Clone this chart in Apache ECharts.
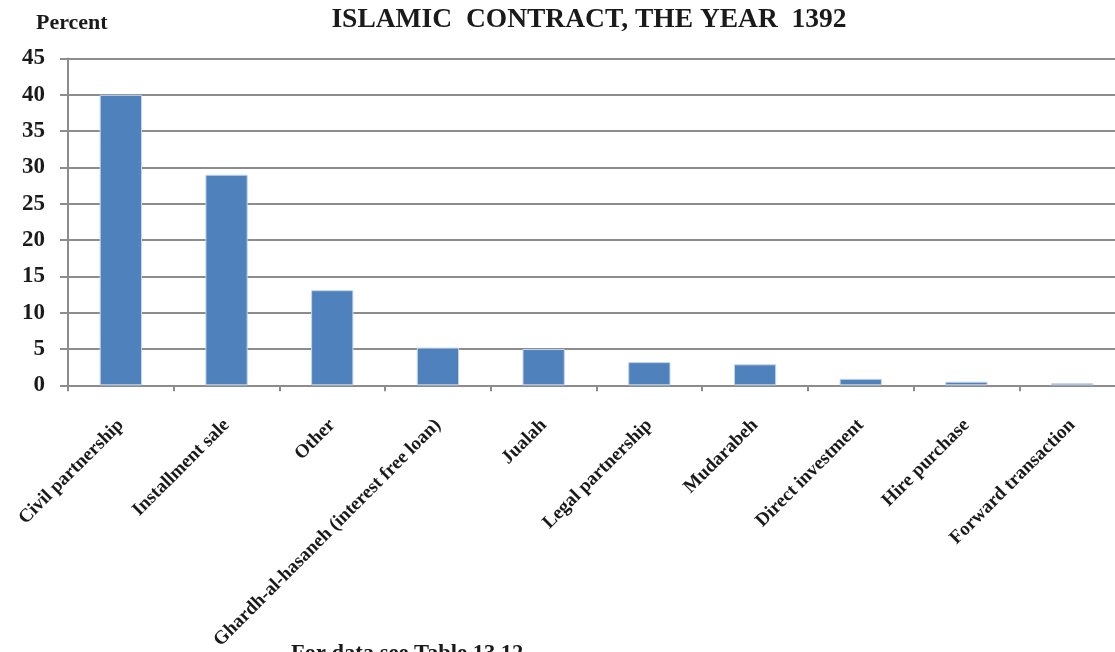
<!DOCTYPE html>
<html><head><meta charset="utf-8">
<script src="https://cdn.jsdelivr.net/npm/echarts@6/dist/echarts.min.js"></script>
<style>html,body{margin:0;padding:0;background:#fff;overflow:hidden;width:1115px;height:652px}#c{width:1130px;height:652px}</style>
</head><body><div id="c"></div>
<script>
const categories = ["Civil partnership","Installment sale","Other","Ghardh-al-hasaneh (interest free loan)","Jualah","Legal partnership","Mudarabeh","Direct investment","Hire purchase","Forward transaction"];
const values = [40, 29, 13.1, 5.2, 5.0, 3.2, 2.9, 0.9, 0.5, 0.3];
const yTicks = [0,5,10,15,20,25,30,35,40,45];
const F = '"Liberation Serif","Times New Roman",serif';
const chart = echarts.init(document.getElementById('c'));
chart.setOption({
  animation:false,
  title:[
    {text:'ISLAMIC  CONTRACT, THE YEAR  1392', left:584, top:1, textAlign:'center',
     textStyle:{fontFamily:F,fontWeight:'bold',fontSize:27.5,color:'#1a1a1a'}},
    {text:'Percent', left:31, top:7, textStyle:{fontFamily:F,fontWeight:'bold',fontSize:22,color:'#1a1a1a'}},
    {text:'For data see Table 13.12', left:286, top:638, textStyle:{fontFamily:F,fontWeight:'bold',fontSize:22.5,color:'#1a1a1a'}}
  ],
  grid:{left:68, right:5, top:58.5, bottom:265.5, containLabel:false},
  xAxis:{type:'category', data:categories,
    axisLine:{lineStyle:{color:'#8c8c8c',width:2}},
    axisTick:{show:true,length:6,lineStyle:{color:'#8c8c8c',width:2}},
    axisLabel:{rotate:45, interval:0, margin:37, fontFamily:F, fontWeight:'bold', fontSize:19, color:'#1a1a1a'}},
  yAxis:{type:'value', min:0, max:45, interval:5,
    axisLine:{show:true,lineStyle:{color:'#8c8c8c',width:2}},
    axisTick:{show:true,length:8,inside:false,lineStyle:{color:'#8c8c8c',width:2}},
    splitLine:{show:true,lineStyle:{color:'#8c8c8c',width:2}},
    axisLabel:{margin:23, fontFamily:F, fontWeight:'bold', fontSize:23, color:'#1a1a1a',
      formatter:v=>yTicks.includes(v)?String(v):''}},
  series:[{type:'bar', data:values, barWidth:'40%',
    itemStyle:{color:'#4f81bd', borderColor:'#c6d5ea', borderWidth:1}}]
});
</script></body></html>
